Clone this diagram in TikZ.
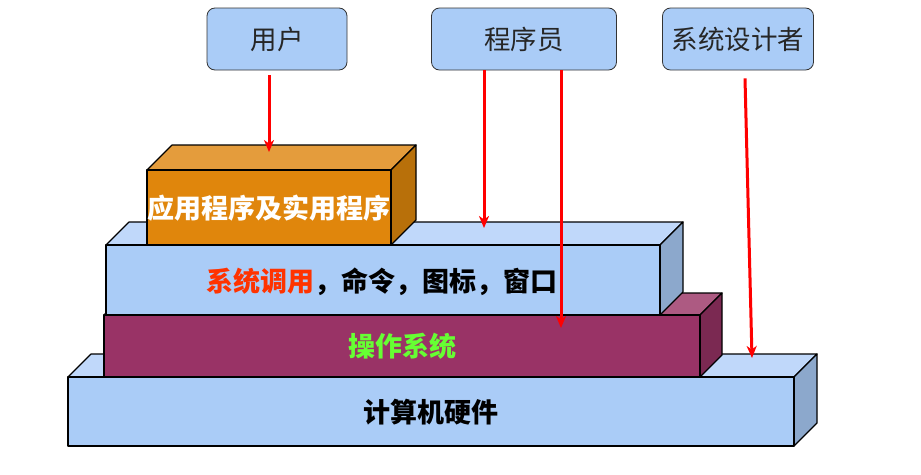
\documentclass[tikz,border=0pt]{standalone}
\usepackage{fontspec}
\setmainfont{Noto Sans CJK SC}
\usepackage{tikz}
\usetikzlibrary{arrows.meta,calc}
\usepackage{xcolor}
\definecolor{sky}{RGB}{170,204,247}
\definecolor{skytop}{RGB}{192,216,250}
\definecolor{skyside}{RGB}{140,168,204}
\definecolor{amber}{RGB}{224,134,12}
\definecolor{ambertop}{RGB}{228,156,60}
\definecolor{amberside}{RGB}{184,112,10}
\definecolor{plum}{RGB}{153,51,102}
\definecolor{plumtop}{RGB}{173,90,130}
\definecolor{plumside}{RGB}{123,41,82}
\definecolor{callred}{RGB}{255,51,0}
\definecolor{osgreen}{RGB}{102,255,51}

\begin{document}
\begin{tikzpicture}[x=1pt,y=-1pt,
    role/.style={draw=black!80, fill=sky, rounded corners=8pt, line width=.8pt,
        minimum height=62pt, inner sep=0pt, text=black!85, font=\fontsize{26.5}{30}\selectfont},
    face/.style={draw=black, line width=1.2pt, line join=round},
    layertext/.style={inner sep=0pt, font=\fontsize{27}{30}\selectfont\bfseries},
    uses/.style={red, line width=3pt, -{Stealth[length=12pt,width=10pt,inset=3.5pt]}}]
\useasboundingbox (0,0) rectangle (921,474);

% who looks at the system
\node [role, minimum width=140pt] (user) at (277,39) {用户};
\node [role, minimum width=185pt] (prog) at (524,39) {程序员};
\node [role, minimum width=151pt] (designer) at (738,39) {系统设计者};

% hardware
\draw [face, fill=skytop] (68,377) -- ++(23,-23) -- ++(726,0) -- ++(-23,23) -- cycle;
\draw [face, fill=skyside] (794,377) -- ++(23,-23) -- ++(0,69) -- ++(-23,23) -- cycle;
\draw [face, fill=sky] (68,377) rectangle (794,446);
\node [layertext] (hw) at (431,412) {计算机硬件};

% operating system
\draw [face, fill=plumtop] (104,315) -- ++(22,-22) -- ++(596,0) -- ++(-22,22) -- cycle;
\draw [face, fill=plumside] (700,315) -- ++(22,-22) -- ++(0,62) -- ++(-22,22) -- cycle;
\draw [face, fill=plum] (104,315) rectangle (700,377);
\node [layertext, text=osgreen] (os) at (402,346) {操作系统};

% system calls etc.
\draw [face, fill=skytop] (106,245) -- ++(23,-23) -- ++(554,0) -- ++(-23,23) -- cycle;
\draw [face, fill=skyside] (660,245) -- ++(23,-23) -- ++(0,70) -- ++(-23,23) -- cycle;
\draw [face, fill=sky] (106,245) rectangle (660,315);
\node [layertext] (calls) at (382,282) {\textcolor{callred}{系统调用}，命令，图标，窗口};

% applications
\draw [face, fill=ambertop] (147,170) -- ++(25,-25) -- ++(244,0) -- ++(-25,25) -- cycle;
\draw [face, fill=amberside] (391,170) -- ++(25,-25) -- ++(0,75) -- ++(-25,25) -- cycle;
\draw [face, fill=amber] (147,170) rectangle (391,245);
\node [layertext, text=white] (apps) at (269,208) {应用程序及实用程序};

% arrows
\coordinate (u1) at (269,152);
\coordinate (p1) at (484,228);
\coordinate (p2) at (561,328);
\coordinate (d1) at (752,358);
\draw [uses] ([xshift=-8pt,yshift=-5pt]user.south) -- (u1);
\draw [uses] ([xshift=-40pt]prog.south) -- (p1);
\draw [uses] ([xshift=37pt]prog.south) -- (p2);
\draw [uses] ([xshift=7pt,yshift=-8pt]designer.south) -- (d1);
\end{tikzpicture}
\end{document}
